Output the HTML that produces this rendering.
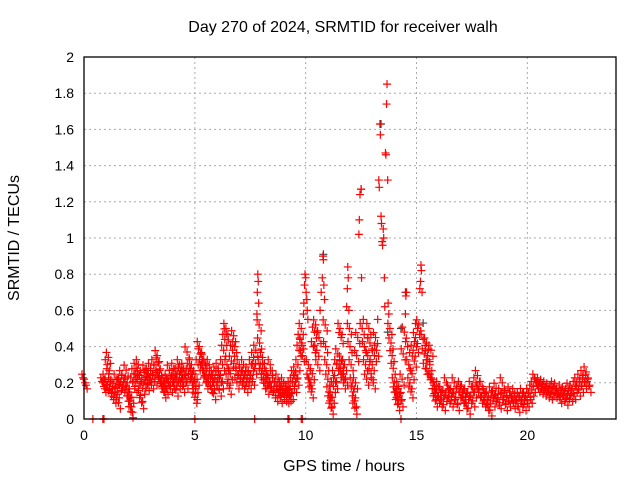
<!DOCTYPE html>
<html><head><meta charset="utf-8"><style>
body{margin:0;background:#fff}
svg{display:block;font-family:"Liberation Sans",sans-serif}
</style></head><body>
<svg id="c" width="640" height="480">
<rect width="640" height="480" fill="#fff"/>
<g id="grid"></g><g id="marks"></g><g id="axes"></g>
<text x="343" y="32" font-size="16" text-anchor="middle" fill="#000">Day 270 of 2024, SRMTID for receiver walh</text>
<text x="344" y="471" font-size="16" text-anchor="middle" fill="#000">GPS time / hours</text>
<text transform="translate(19,238) rotate(-90)" font-size="16" text-anchor="middle" fill="#000">SRMTID / TECUs</text>
</svg>
<script>
const xTicks=[0,5,10,15,20];
const yTicks=[0,0.2,0.4,0.6,0.8,1,1.2,1.4,1.6,1.8,2];
const yTickLabels=["0","0.2","0.4","0.6","0.8","1","1.2","1.4","1.6","1.8","2"];
const redSamples=[[0,0.22],[0.05,0.2],[0.85,0.2],[0.9,0.18],[0.95,0.22],[1,0.19],[1.05,0.3],[1.1,0.34],[1.12,0.25],[1.15,0.16],[1.2,0.2],[1.25,0.14],[1.3,0.18],[1.35,0.12],[1.4,0.17],[1.45,0.22],[1.5,0.15],[1.55,0.09],[1.6,0.19],[1.65,0.2],[1.7,0.24],[1.75,0.18],[1.8,0.22],[1.85,0.16],[1.9,0.27],[1.95,0.2],[2,0.15],[2.05,0.1],[2.1,0.07],[2.12,0.04],[2.15,0.12],[2.2,0.2],[2.25,0.25],[2.3,0.18],[2.35,0.28],[2.4,0.22],[2.45,0.3],[2.5,0.24],[2.55,0.13],[2.6,0.09],[2.65,0.17],[2.7,0.2],[2.75,0.27],[2.8,0.23],[2.85,0.19],[2.9,0.25],[2.95,0.22],[3,0.28],[3.05,0.2],[3.1,0.24],[3.15,0.3],[3.2,0.22],[3.25,0.27],[3.3,0.35],[3.35,0.31],[3.4,0.23],[3.45,0.2],[3.5,0.24],[3.55,0.18],[3.6,0.15],[3.65,0.2],[3.7,0.17],[3.75,0.22],[3.8,0.2],[3.85,0.27],[3.9,0.18],[3.95,0.24],[4,0.2],[4.05,0.28],[4.1,0.22],[4.15,0.16],[4.2,0.25],[4.25,0.2],[4.3,0.3],[4.35,0.26],[4.4,0.22],[4.45,0.18],[4.5,0.28],[4.55,0.24],[4.6,0.2],[4.65,0.37],[4.7,0.25],[4.75,0.28],[4.8,0.22],[4.85,0.3],[4.9,0.25],[4.95,0.2],[5,0.12],[5.02,0.14],[5.05,0.18],[5.1,0.22],[5.15,0.3],[5.2,0.4],[5.25,0.36],[5.3,0.3],[5.35,0.27],[5.4,0.33],[5.45,0.24],[5.5,0.2],[5.55,0.28],[5.6,0.22],[5.65,0.3],[5.7,0.18],[5.75,0.24],[5.8,0.2],[5.85,0.14],[5.9,0.22],[5.95,0.26],[6,0.2],[6.05,0.28],[6.1,0.16],[6.15,0.24],[6.2,0.2],[6.25,0.3],[6.3,0.38],[6.35,0.44],[6.4,0.5],[6.42,0.47],[6.45,0.3],[6.5,0.22],[6.55,0.17],[6.6,0.25],[6.65,0.32],[6.7,0.38],[6.75,0.46],[6.8,0.4],[6.85,0.28],[6.9,0.2],[6.95,0.24],[7,0.3],[7.05,0.22],[7.1,0.26],[7.15,0.2],[7.2,0.3],[7.25,0.24],[7.3,0.18],[7.35,0.22],[7.4,0.26],[7.45,0.2],[7.5,0.24],[7.55,0.3],[7.6,0.22],[7.65,0.34],[7.7,0.28],[7.75,0.38],[7.8,0.58],[7.82,0.7],[7.84,0.8],[7.86,0.76],[7.88,0.64],[7.9,0.52],[7.92,0.42],[7.95,0.3],[8,0.25],[8.05,0.34],[8.1,0.2],[8.15,0.28],[8.2,0.22],[8.25,0.17],[8.3,0.24],[8.35,0.2],[8.4,0.3],[8.45,0.18],[8.5,0.24],[8.55,0.15],[8.6,0.2],[8.65,0.13],[8.7,0.18],[8.75,0.22],[8.8,0.16],[8.85,0.12],[8.9,0.18],[8.95,0.14],[9,0.2],[9.05,0.13],[9.1,0.17],[9.15,0.12],[9.2,0.16],[9.25,0.13],[9.3,0.18],[9.35,0.14],[9.4,0.2],[9.45,0.24],[9.5,0.18],[9.55,0.26],[9.6,0.22],[9.65,0.3],[9.7,0.38],[9.75,0.44],[9.8,0.5],[9.82,0.42],[9.85,0.35],[9.9,0.58],[9.92,0.64],[9.95,0.74],[9.97,0.8],[10,0.78],[10.02,0.7],[10.05,0.66],[10.07,0.6],[10.1,0.55],[10.12,0.3],[10.15,0.22],[10.2,0.2],[10.25,0.15],[10.3,0.25],[10.35,0.4],[10.4,0.48],[10.45,0.52],[10.5,0.38],[10.55,0.3],[10.6,0.45],[10.65,0.6],[10.7,0.7],[10.75,0.78],[10.78,0.9],[10.8,0.88],[10.82,0.74],[10.85,0.66],[10.88,0.52],[10.9,0.4],[10.95,0.3],[11,0.22],[11.05,0.15],[11.1,0.1],[11.15,0.06],[11.2,0.12],[11.25,0.18],[11.3,0.24],[11.35,0.2],[11.4,0.3],[11.45,0.36],[11.5,0.28],[11.55,0.5],[11.6,0.45],[11.62,0.32],[11.65,0.25],[11.7,0.2],[11.75,0.3],[11.8,0.22],[11.85,0.62],[11.88,0.72],[11.9,0.84],[11.92,0.78],[11.95,0.6],[11.97,0.5],[12,0.4],[12.05,0.3],[12.1,0.2],[12.15,0.15],[12.2,0.1],[12.22,0.06],[12.25,0.2],[12.3,0.35],[12.35,0.45],[12.4,1.02],[12.42,1.1],[12.45,1.24],[12.5,1.27],[12.52,0.78],[12.55,0.5],[12.6,0.55],[12.65,0.4],[12.7,0.3],[12.75,0.22],[12.8,0.35],[12.85,0.5],[12.9,0.42],[12.95,0.25],[13,0.3],[13.05,0.2],[13.1,0.35],[13.15,0.45],[13.2,0.38],[13.25,0.55],[13.3,1.32],[13.32,1.28],[13.35,1.63],[13.37,1.57],[13.4,1.12],[13.42,1.08],[13.45,0.98],[13.47,0.96],[13.5,1.05],[13.52,1.0],[13.55,0.78],[13.57,0.62],[13.6,1.47],[13.62,1.46],[13.65,1.74],[13.67,1.85],[13.7,1.32],[13.72,0.64],[13.75,0.58],[13.8,0.5],[13.85,0.42],[13.9,0.35],[13.95,0.28],[14,0.2],[14.05,0.15],[14.1,0.12],[14.15,0.08],[14.2,0.18],[14.25,0.14],[14.3,0.1],[14.35,0.22],[14.4,0.36],[14.45,0.48],[14.5,0.58],[14.52,0.68],[14.55,0.7],[14.6,0.4],[14.65,0.3],[14.7,0.2],[14.75,0.15],[14.8,0.25],[14.85,0.38],[14.9,0.32],[14.95,0.45],[15,0.4],[15.05,0.5],[15.1,0.52],[15.15,0.72],[15.18,0.76],[15.2,0.85],[15.22,0.82],[15.25,0.7],[15.3,0.44],[15.35,0.36],[15.4,0.28],[15.45,0.42],[15.5,0.35],[15.55,0.25],[15.6,0.3],[15.65,0.38],[15.7,0.22],[15.75,0.2],[15.8,0.14],[15.85,0.1],[15.9,0.16],[15.95,0.12],[16,0.18],[16.07,0.1],[16.14,0.15],[16.21,0.08],[16.28,0.13],[16.35,0.2],[16.42,0.12],[16.49,0.16],[16.56,0.1],[16.63,0.14],[16.7,0.2],[16.77,0.12],[16.84,0.08],[16.91,0.15],[16.98,0.18],[17.05,0.12],[17.12,0.16],[17.19,0.09],[17.26,0.14],[17.33,0.06],[17.4,0.12],[17.47,0.18],[17.54,0.1],[17.61,0.15],[17.68,0.2],[17.75,0.24],[17.82,0.16],[17.89,0.12],[17.96,0.18],[18.03,0.1],[18.1,0.14],[18.17,0.08],[18.24,0.12],[18.31,0.05],[18.38,0.15],[18.45,0.1],[18.52,0.13],[18.59,0.17],[18.66,0.11],[18.73,0.09],[18.8,0.14],[18.87,0.2],[18.94,0.12],[19.01,0.08],[19.08,0.13],[19.15,0.1],[19.22,0.15],[19.29,0.12],[19.36,0.09],[19.43,0.14],[19.5,0.1],[19.57,0.07],[19.64,0.12],[19.71,0.1],[19.78,0.14],[19.85,0.08],[19.92,0.12],[19.99,0.1],[20.06,0.14],[20.13,0.12],[20.2,0.16],[20.27,0.18],[20.34,0.22],[20.41,0.2],[20.48,0.18],[20.55,0.2],[20.62,0.17],[20.69,0.19],[20.76,0.16],[20.83,0.18],[20.9,0.15],[20.97,0.17],[21.04,0.14],[21.11,0.16],[21.18,0.18],[21.25,0.15],[21.32,0.17],[21.39,0.14],[21.46,0.12],[21.53,0.16],[21.6,0.13],[21.67,0.15],[21.74,0.11],[21.81,0.14],[21.88,0.17],[21.95,0.13],[22.02,0.16],[22.09,0.14],[22.16,0.18],[22.23,0.2],[22.3,0.16],[22.37,0.22],[22.44,0.18],[22.51,0.24],[22.58,0.2],[22.65,0.26],[22.72,0.22],[22.78,0.18]];
const zeroHours=[0.4,0.85,0.9,5.0,7.7,9.2,9.25,9.8,9.85,14.3];
const graySamples=[[10.8,0.91],[12.5,1.27],[13.4,1.63],[14.5,0.7],[15.3,0.53],[14.3,0.5],[12.8,0.45],[13.7,0.48]];
const L=84,R=616,T=57,B=419,XMAX=24,YMAX=2;
const xs=v=>L+v/XMAX*(R-L), ys=v=>B-v/YMAX*(B-T);
const NS="http://www.w3.org/2000/svg";
const grid=document.getElementById('grid'),marks=document.getElementById('marks'),axes=document.getElementById('axes');
function mk(tag,a,p){const e=document.createElementNS(NS,tag);for(const k in a)e.setAttribute(k,a[k]);p.appendChild(e);return e;}
yTicks.forEach((v,i)=>{
 if(v>0&&v<YMAX){const g=mk('line',{x1:L,x2:R,y1:ys(v),y2:ys(v),stroke:'#aaa','stroke-dasharray':'2,3'},grid);
 
 }
 const t=mk('text',{x:L-10,y:ys(v)+5,'font-size':14,'text-anchor':'end'},axes);t.textContent=yTickLabels[i];
 
 
});
xTicks.forEach(v=>{
 if(v>0){const g=mk('line',{x1:xs(v),x2:xs(v),y1:T,y2:B,stroke:'#aaa','stroke-dasharray':'2,3'},grid);
 
 }
 const t=mk('text',{x:xs(v),y:B+21,'font-size':14,'text-anchor':'middle'},axes);t.textContent=String(v);
 
 
});
const frame=mk('rect',{x:L,y:T,width:R-L,height:B-T,fill:'none',stroke:'#000','stroke-width':1.3},axes);


function cross(x,y,c){const p=mk('path',{d:`M${x-4},${y}h8M${x},${y-4}v8`,stroke:c,'stroke-width':1.2,fill:'none'},marks);return p;}
graySamples.forEach(d=>{const p=cross(xs(d[0]),ys(d[1]),'#444');
 
 });
redSamples.forEach(d=>{const x=xs(d[0]),y=ys(d[1]);
 const p=cross(x,y,'#f00');
 
 
 if(d[1]<0.55){
 const q=cross(x+2,y+6,'#f00');
 
 
 const r=cross(x-2,y-5,'#f00');
 
 }});
zeroHours.forEach(h=>{const p=cross(xs(h),ys(0),'#f00');
 
 });
</script>
</body></html>
